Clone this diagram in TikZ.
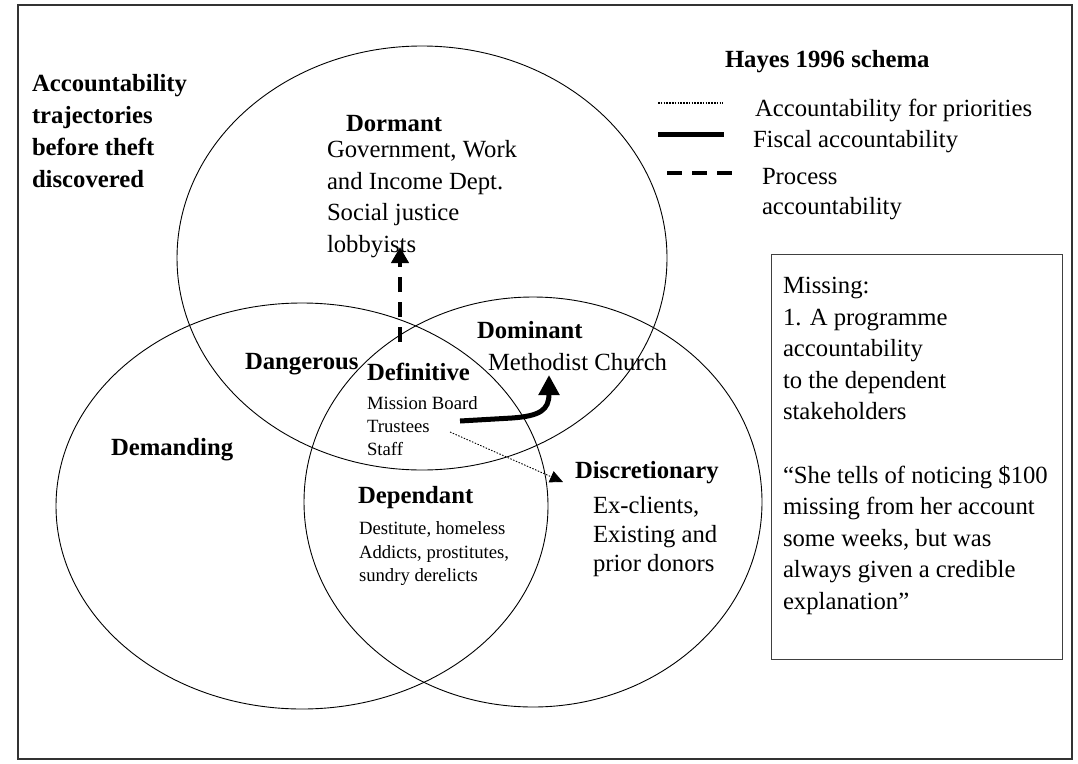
\documentclass[tikz,border=0pt]{standalone}
\usepackage{fontspec}
\setmainfont{Liberation Serif}
\usetikzlibrary{arrows.meta}
\newcommand\mainsz{\fontsize{24.7}{31.8}\selectfont}
\newcommand\smallsz{\fontsize{18.7}{23.2}\selectfont}
\begin{document}
\begin{tikzpicture}[x=1pt,y=-1pt,
  lbl/.style={inner sep=0pt, outer sep=0pt, font=\mainsz\bfseries, anchor=base west},
  txt/.style={inner sep=0pt, outer sep=0pt, font=\mainsz, anchor=base west},
  blk/.style={inner sep=0pt, outer sep=0pt, align=left, anchor=west},
  venn/.style={draw=black, line width=0.9pt},
  fiscal/.style={line width=5pt},
  process/.style={line width=4pt, dash pattern=on 15pt off 10pt},
  priority/.style={line width=1.2pt, dash pattern=on 1.6pt off 1.2pt}]
\useasboundingbox (0,0) rectangle (1078,763);
% frame
\draw[line width=1.2pt, draw=black!80] (18,5) rectangle (1072,759);
% ellipses
\draw[venn] (422,258) ellipse [x radius=245, y radius=212];
\draw[venn] (302,506) ellipse [x radius=246, y radius=203];
\draw[venn] (533,502) ellipse [x radius=229, y radius=205];
% title
\node[blk, font=\fontsize{24.7}{31.7}\selectfont\bfseries] (title) at (32,131)
  {Accountability\\trajectories\\before theft\\discovered};
% legend
\node[lbl] (hayes) at (725,67) {Hayes 1996 schema};
\coordinate (l1a) at (658,103); \coordinate (l1b) at (723,103);
\draw[priority] (l1a) -- (l1b);
\node[txt] (lt1) at (755,116) {Accountability for priorities};
\coordinate (l2a) at (658,134); \coordinate (l2b) at (724,134);
\draw[fiscal] (l2a) -- (l2b);
\node[txt] (lt2) at (753,147) {Fiscal accountability};
\coordinate (l3a) at (667,173); \coordinate (l3b) at (732,173);
\draw[process] (l3a) -- (l3b);
\node[blk, font=\fontsize{24.7}{30}\selectfont] (lt3) at (762,194) {Process\\accountability};
% regions
\node[lbl] (dormant) at (346,131) {Dormant};
\node[blk, font=\mainsz] (dormtxt) at (327,199)
  {Government, Work\\and Income Dept.\\Social justice\\lobbyists};
\node[lbl] (dangerous) at (245,369) {Dangerous};
\node[lbl] (demanding) at (111,455) {Demanding};
\node[lbl] (definitive) at (367,380) {Definitive};
\node[blk, font=\smallsz] (deftxt) at (367,426) {Mission Board\\Trustees\\Staff};
\node[lbl] (dominant) at (477,338) {Dominant};
\node[txt] (domtxt) at (488,370) {Methodist Church};
\node[lbl] (dependant) at (358,503) {Dependant};
\node[blk, font=\fontsize{18.7}{23.5}\selectfont] (deptxt) at (359,554)
  {Destitute, homeless\\Addicts, prostitutes,\\sundry derelicts};
\node[lbl] (discretionary) at (575,478) {Discretionary};
\node[blk, font=\fontsize{24.7}{29}\selectfont] (disctxt) at (593,537)
  {Ex-clients,\\Existing and\\prior donors};
% missing box
\draw[line width=1pt, draw=black!75] (771,254) rectangle (1062,659);
\node[blk, font=\fontsize{24.7}{31.6}\selectfont] (missing) at (783,446)
  {Missing:\\1. A programme\\accountability\\to the dependent\\stakeholders\\[31.6pt]%
   “She tells of noticing \$100\\missing from her account\\some weeks, but was\\always given a credible\\explanation”};
% arrows
\coordinate (pa) at (400,342); \coordinate (pb) at (400,247);
\draw[process, -{Triangle[length=16pt,width=17pt]}] (pa) -- (pb);
\coordinate (fa) at (460,421); \coordinate (fm) at (512,418); \coordinate (fb) at (549,375);
\draw[fiscal, -{Triangle[length=20pt,width=20pt]}] (fa) -- (fm) .. controls (540,416) and (549,410) .. (fb);
\coordinate (da) at (450,432); \coordinate (db) at (563,482);
\draw[line width=0.9pt, dash pattern=on 1.5pt off 1.5pt, -{Triangle[length=13pt,width=12pt]}] (da) -- (db);
\end{tikzpicture}
\end{document}
